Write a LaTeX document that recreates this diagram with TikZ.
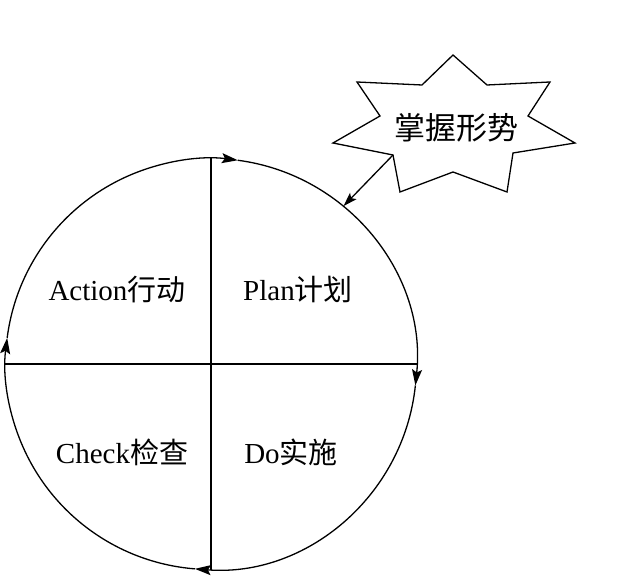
\documentclass[tikz,border=0pt]{standalone}
\usepackage{fontspec}
\setmainfont{Liberation Serif}
\newfontfamily\cjk{Noto Sans CJK SC}
\usetikzlibrary{arrows.meta}
\begin{document}
\begin{tikzpicture}[x=1pt,y=1pt,
  line width=1.3pt,
  arc/.style={-{Stealth[length=16pt,width=10pt,inset=3pt]}},
  lbl/.style={font=\fontsize{29}{32}\selectfont, inner sep=0pt},
  starlbl/.style={font=\fontsize{31}{34}\selectfont, inner sep=0pt}]
\useasboundingbox (0,0) rectangle (640,588);
% circle anchor (not drawn)
\node[circle, minimum size=411pt, inner sep=0pt] (circ) at (211,224) {};
\coordinate (ctr) at (211,224);
% quadrant lines
\draw (circ.north) -- (circ.south);
\draw (circ.west) -- (circ.east);
% circle arcs with clockwise arrows
\draw[arc] (ctr) ++(172.7:205.5) arc[start angle=172.7, end angle=82.5, radius=205.5];
\draw[arc] (ctr) ++(82.5:205.5) arc[start angle=82.5, end angle=-6, radius=205.5];
\draw[arc] (ctr) ++(-6:205.5) arc[start angle=-6, end angle=-94.5, radius=205.5];
\draw[arc] (ctr) ++(-94.5:205.5) arc[start angle=-94.5, end angle=-187.3, radius=205.5];
% labels
\node[lbl] (act) at (117,298) {Action{\cjk 行动}};
\node[lbl] (plan) at (298,298) {Plan{\cjk 计划}};
\node[lbl] (chk) at (122,136) {Check{\cjk 检查}};
\node[lbl] (do) at (291,136) {Do{\cjk 实施}};
% star
\coordinate (sIn) at (393,433);
\draw (453,533) -- (487,503) -- (550,506) -- (528,472) -- (575,445) -- (513,435)
  -- (507,396) -- (453,416) -- (400,396) -- (sIn) -- (333,445) -- (380,472)
  -- (357,506) -- (422,503) -- cycle;
\node[starlbl] (star) at (456,460) {\cjk 掌握形势};
% arrow from star to circle
\draw[-{Stealth[length=14pt,width=9pt,inset=3pt]}] (sIn) -- (circ.50.5);
\end{tikzpicture}
\end{document}
